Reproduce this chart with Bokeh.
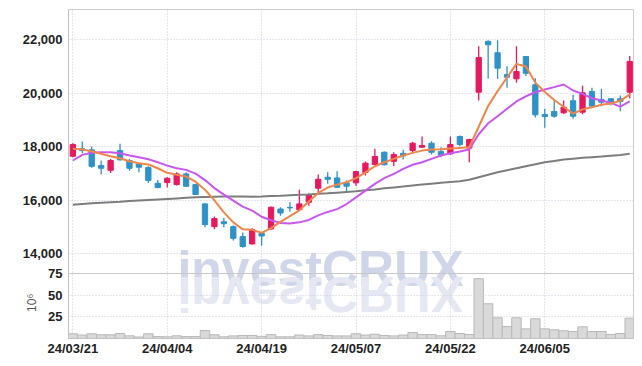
import math
import urllib.parse
from bokeh.plotting import figure
from bokeh.models import (Range1d, FixedTicker, NumeralTickFormatter, ColumnDataSource,
                          Label, Span)
from bokeh.core.properties import value
from bokeh.embed import file_html
from bokeh.resources import INLINE

dates = ["24/03/21", "24/03/22", "24/03/25", "24/03/26", "24/03/27", "24/03/28", "24/03/29",
         "24/04/01", "24/04/02", "24/04/03", "24/04/04", "24/04/05", "24/04/08", "24/04/09",
         "24/04/11", "24/04/12", "24/04/15", "24/04/16", "24/04/17", "24/04/18", "24/04/19",
         "24/04/22", "24/04/23", "24/04/24", "24/04/25", "24/04/26", "24/04/29", "24/04/30",
         "24/05/02", "24/05/03", "24/05/07", "24/05/08", "24/05/09", "24/05/10", "24/05/13",
         "24/05/14", "24/05/16", "24/05/17", "24/05/20", "24/05/21", "24/05/22", "24/05/23",
         "24/05/24", "24/05/27", "24/05/28", "24/05/29", "24/05/30", "24/05/31", "24/06/03",
         "24/06/04", "24/06/05", "24/06/07", "24/06/10", "24/06/11", "24/06/12", "24/06/13",
         "24/06/14", "24/06/17", "24/06/18", "24/06/19"]

opens = [17650, 17925, 17888, 17300, 17125, 17860, 17490, 17360, 17225, 16640,
         16665, 16590, 16990, 16590, 15870, 15020, 15200, 15020, 14650, 14375,
         14770, 14935, 15680, 15740, 15655, 15930, 16455, 16865, 16840, 16655,
         16655, 17040, 17340, 17800, 17460, 17760, 17860, 17985, 18135, 17830,
         17740, 18385, 17955, 20040, 21940, 21515, 20700, 20540, 21375, 20320,
         19210, 19320, 19270, 19720, 19295, 20070, 19770, 19795, 19795, 20040]
highs = [18135, 18200, 18010, 17490, 17550, 18115, 17550, 17390, 17275, 16765,
         16870, 17050, 17050, 16620, 15890, 15400, 15350, 15060, 14800, 14960,
         14790, 15770, 15740, 15930, 16400, 16265, 16965, 17050, 17090, 16740,
         17110, 17450, 17925, 17830, 17800, 17890, 18190, 18385, 18210, 17985,
         18385, 18420, 18300, 21760, 21985, 21985, 21010, 21760, 21375, 20565,
         19420, 19770, 19730, 19945, 20280, 20205, 20170, 19820, 19920, 21390]
lows = [17610, 17760, 17220, 16965, 17025, 17490, 17110, 17050, 16650, 16450,
        16480, 16560, 16500, 16200, 14995, 14920, 14995, 14500, 14230, 14350,
        14310, 14910, 15430, 15580, 15640, 15805, 16280, 16620, 16470, 16300,
        16540, 16930, 17300, 17300, 17275, 17525, 17790, 17980, 17710, 17610,
        17700, 18020, 17425, 19730, 20540, 20540, 20205, 20390, 20650, 19095,
        18710, 19085, 19240, 19050, 19220, 19470, 19520, 19555, 19330, 19815]
closes = [18090, 17860, 17275, 17200, 17490, 17515, 17200, 17240, 16740, 16480,
          16825, 16990, 16530, 16220, 15095, 15320, 15130, 14585, 14280, 14910,
          14670, 15745, 15530, 15720, 15870, 16205, 16790, 16790, 16490, 16530,
          17075, 17390, 17640, 17330, 17710, 17665, 18135, 18050, 17800, 17700,
          18085, 18085, 18275, 21340, 21810, 20940, 20600, 20815, 20750, 19195,
          19130, 19145, 19480, 19145, 20020, 19520, 19670, 19645, 19695, 21190]

ma5 = [17925, 17900, 17835, 17740, 17650, 17575, 17460, 17390, 17340, 17200,
       17030, 16955, 16890, 16700, 16400, 16000, 15555, 15180, 14920, 14900,
       14790, 14965, 15195, 15410, 15630, 15960, 16280, 16480, 16590, 16680,
       16830, 17050, 17275, 17425, 17550, 17675, 17775, 17860, 17900, 17910,
       17935, 17960, 17985, 18750, 19530, 20080, 20590, 21100, 21000, 20400,
       20050, 19750, 19500, 19240, 19400, 19480, 19570, 19620, 19720, 19960]
ma20 = [17490, 17700, 17780, 17800, 17800, 17760, 17675, 17610, 17535, 17425,
        17300, 17200, 17140, 17000, 16760, 16460, 16215, 15995, 15770, 15620,
        15390, 15260, 15160, 15135, 15180, 15270, 15440, 15570, 15675, 15865,
        16115, 16365, 16615, 16830, 16990, 17180, 17330, 17425, 17550, 17675,
        17760, 17825, 17900, 18470, 18880, 19145, 19420, 19695, 19890, 20040,
        20140, 20230, 20330, 20105, 19980, 19815, 19730, 19645, 19505, 19695]
ma60 = [15840, 15865, 15890, 15910, 15930, 15950, 15975, 15995, 16015, 16035,
        16055, 16075, 16095, 16115, 16130, 16140, 16145, 16145, 16145, 16140,
        16145, 16160, 16175, 16195, 16210, 16225, 16245, 16265, 16290, 16315,
        16340, 16375, 16410, 16450, 16485, 16520, 16555, 16590, 16625, 16660,
        16690, 16715, 16770, 16865, 16960, 17050, 17125, 17200, 17275, 17350,
        17425, 17475, 17525, 17560, 17590, 17615, 17640, 17670, 17700, 17740]

volume_m = [5.5, 4.0, 5.5, 4.3, 4.3, 5.8, 3.1, 1.8, 5.5, 2.3,
            2.0, 3.1, 2.3, 2.3, 9.3, 4.3, 2.0, 3.0, 3.5, 3.5,
            2.5, 4.5, 2.0, 2.0, 4.0, 3.0, 4.5, 3.5, 3.0, 3.0,
            5.5, 4.0, 5.0, 3.5, 3.0, 4.0, 7.0, 4.6, 4.6, 3.1,
            8.1, 5.8, 4.6, 69.4, 40.3, 24.0, 14.0, 24.0, 11.2, 22.9,
            11.2, 10.1, 9.0, 8.1, 13.6, 8.1, 8.1, 4.6, 5.8, 23.6]

price_ticks = [14000, 16000, 18000, 20000, 22000]
volume_ticks = [25, 50, 75]
label_every = 10

# layout of the two panels inside one frame (pixels)
FRAME_TOP, PANEL_SPLIT, FRAME_BOTTOM = 9, 273, 338
PRICE_TOP, PRICE_BOTTOM = 23130, 13270          # price panel range
VOL_TOP = 75.4                                  # volume panel range (millions)

px_price = (PRICE_TOP - PRICE_BOTTOM) / (PANEL_SPLIT - FRAME_TOP)
px_vol = VOL_TOP / (FRAME_BOTTOM - PANEL_SPLIT)
y_min = PRICE_BOTTOM - (FRAME_BOTTOM - PANEL_SPLIT) * px_price
vol_max = (FRAME_BOTTOM - FRAME_TOP) * px_vol


def vol_to_price(v):
    return round(y_min + v / px_vol * px_price, 3)


UP = "#e5195f"
DOWN = "#2e92c7"
FONT = "Liberation Sans"
GRID = "#c6cbe0"

idx = list(range(len(dates)))
colors = [UP if c >= o else DOWN for o, c in zip(opens, closes)]
src = ColumnDataSource(dict(
    x=idx, open=opens, high=highs, low=lows, close=closes,
    top=[max(o, c) for o, c in zip(opens, closes)],
    bottom=[min(o, c) for o, c in zip(opens, closes)],
    color=colors, ma5=ma5, ma20=ma20, ma60=ma60, vol=volume_m))

tick_idx = idx[::label_every]
x_overrides = {i: dates[i] for i in tick_idx}

vol_tick_pos = [vol_to_price(v) for v in volume_ticks]
y_overrides = {pos: str(v) for pos, v in zip(vol_tick_pos, volume_ticks)}

p = figure(width=642, height=366, x_range=Range1d(-0.46, 59.4), y_range=Range1d(y_min, PRICE_TOP),
           output_backend="svg", toolbar_location=None,
           min_border_left=68, min_border_right=9, min_border_top=FRAME_TOP,
           min_border_bottom=366 - FRAME_BOTTOM)
p.extra_y_ranges = {"vol": Range1d(0, vol_max)}

p.background_fill_color = "white"
p.border_fill_color = "white"
p.outline_line_color = "#cdcdcd"

p.xaxis.ticker = FixedTicker(ticks=tick_idx)
p.xaxis.major_label_overrides = x_overrides
p.yaxis.ticker = FixedTicker(ticks=price_ticks + vol_tick_pos)
p.yaxis.formatter = NumeralTickFormatter(format="0,0")
p.yaxis.major_label_overrides = y_overrides

p.xgrid.grid_line_color = GRID
p.ygrid.grid_line_color = GRID
p.xgrid.grid_line_dash = "1 2"
p.ygrid.grid_line_dash = "1 2"

for ax in (p.xaxis[0], p.yaxis[0]):
    ax.major_tick_line_color = None
    ax.minor_tick_line_color = None
    ax.major_tick_out = 0
    ax.major_tick_in = 0
    ax.axis_line_color = "#c2c2c2"
    ax.major_label_text_font = FONT
    ax.major_label_text_font_style = "bold"
    ax.major_label_text_font_size = "13px"
    ax.major_label_text_color = "#222222"
p.yaxis.major_label_standoff = 6
p.xaxis.major_label_standoff = 2

# separator between price and volume panels
p.add_layout(Span(location=PRICE_BOTTOM, dimension="width", line_color="#c8c8c8", line_width=1))

# volume unit label (placed in the left side panel so it is not clipped by the frame)
unit = Label(x=-4.35, y=y_min + (FRAME_BOTTOM - PANEL_SPLIT) * 0.55 * px_price,
             text="10⁶", angle=math.pi / 2, text_align="center", text_baseline="middle",
             text_font="Liberation Sans", text_font_size="12px", text_color="#555555")
p.add_layout(unit, "left")

# watermark and its reflection
WM_X = 26.24
wm = p.text(x=[WM_X], y=[PRICE_BOTTOM + 5 * px_price], text=["investCRUX"],
            text_align="center", text_baseline="alphabetic",
            text_font=value("Liberation Sans"), text_font_style="bold", text_font_size="50px",
            text_color="#d0d6ea")
wm.level = "image"

svg = ('<svg xmlns="http://www.w3.org/2000/svg" width="320" height="50">'
       '<text x="160" y="-3" text-anchor="middle" transform="scale(1,-1)" '
       'font-family="Liberation Sans" font-weight="bold" font-size="50" fill="#e5e7f2">investCRUX</text></svg>')
url = "data:image/svg+xml;charset=utf-8," + urllib.parse.quote(svg)
refl = p.image_url(url=[url], x=[WM_X], y=[PRICE_BOTTOM], w=[320], h=[50],
                   w_units="screen", h_units="screen", anchor="top_center")
refl.level = "image"

# price panel
p.segment(x0="x", y0="high", x1="x", y1="low", color="color", line_width=1.3, source=src)
p.vbar(x="x", width=0.56, top="top", bottom="bottom", fill_color="color",
       line_color="color", line_width=1, source=src)
p.line(x="x", y="ma60", color="#7d7d7d", line_width=2, source=src)
p.line(x="x", y="ma20", color="#c957ef", line_width=2, source=src)
p.line(x="x", y="ma5", color="#ef874a", line_width=2, source=src)

# volume panel
p.vbar(x="x", width=1.0, top="vol", bottom=0, fill_color="#d9d9d9",
       line_color="#b9b9b9", line_width=1, source=src, y_range_name="vol")

open("out.html", "w").write(file_html(p, INLINE))
